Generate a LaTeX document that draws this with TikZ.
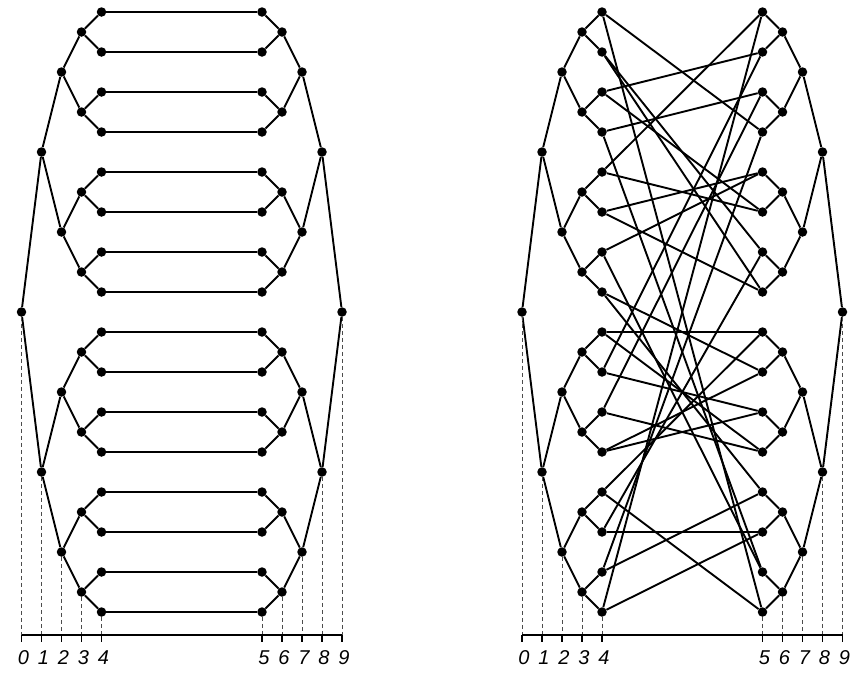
\documentclass[tikz,border=0pt]{standalone}
\usepackage{fontspec}
\newfontfamily\labfont{Liberation Sans}
\begin{document}
\begin{tikzpicture}[x=1pt,y=-1pt,
  dot/.style={circle,fill=black,inner sep=0pt,minimum size=9.5pt},
  edge/.style={line width=1.9pt},
  guide/.style={dash pattern=on 4pt off 3pt,line width=0.9pt,black!70},
  axisline/.style={line width=1.1pt},
  lab/.style={font=\labfont\itshape\fontsize{20}{22}\selectfont, inner sep=0pt}]
\useasboundingbox (0,0) rectangle (853,675);
% nodes of both diagrams
\foreach \d/\ox in {A/0,B/500.5}{
  \foreach \L in {0,...,4}{
    \pgfmathtruncatemacro\nn{2^\L}
    \pgfmathtruncatemacro\nm{\nn-1}
    \pgfmathsetmacro\spc{640/\nn}
    \foreach \k in {0,...,\nm}{
      \pgfmathsetmacro\yy{12+(\spc-40)/2+\k*\spc}
      \node[dot] (\d l\L-\k) at ({\ox+21.5+20*\L},\yy) {};
      \node[dot] (\d r\L-\k) at ({\ox+342-20*\L},\yy) {};
    }
  }
  \coordinate (\d axis) at (0,635);
}
% tree edges
\foreach \d in {A,B}{
  \foreach \L in {1,...,4}{
    \pgfmathtruncatemacro\nm{2^\L-1}
    \pgfmathtruncatemacro\Lm{\L-1}
    \foreach \k in {0,...,\nm}{
      \pgfmathtruncatemacro\p{floor(\k/2)}
      \draw[edge] (\d l\L-\k) -- (\d l\Lm-\p);
      \draw[edge] (\d r\L-\k) -- (\d r\Lm-\p);
    }
  }
  % dashed guides, axis, ticks, labels
  \foreach \L/\last/\ll/\rl in {0/0/0/9,1/1/1/8,2/3/2/7,3/7/3/6,4/15/4/5}{
    \draw[guide] (\d l\L-\last) -- (\d l\L-\last |- \d axis);
    \draw[guide] (\d r\L-\last) -- (\d r\L-\last |- \d axis);
    \draw[axisline] (\d l\L-\last |- \d axis) -- ++(0,7);
    \draw[axisline] (\d r\L-\last |- \d axis) -- ++(0,7);
    \node[lab] (\d lab\ll) at ([xshift=2pt,yshift=-23pt]\d l\L-\last |- \d axis) {\ll};
    \node[lab] (\d lab\rl) at ([xshift=2pt,yshift=-23pt]\d r\L-\last |- \d axis) {\rl};
  }
  \draw[axisline] (\d l0-0 |- \d axis) -- (\d r0-0 |- \d axis);
}
% left diagram: leaves joined straight across
\foreach \k in {0,...,15}{
  \draw[edge] (Al4-\k) -- (Ar4-\k);
}
% right diagram: random welding of the leaves
\foreach \i/\j in {0/3,0/15,1/6,1/7,2/1,2/5,3/2,3/14,4/0,4/5,5/4,5/7,6/4,6/14,7/9,7/12,
                   8/8,8/11,9/10,9/1,10/11,10/2,11/10,11/9,12/15,12/8,13/13,13/6,14/12,14/3,15/13,15/0}{
  \draw[edge] (Bl4-\i) -- (Br4-\j);
}
\end{tikzpicture}
\end{document}
